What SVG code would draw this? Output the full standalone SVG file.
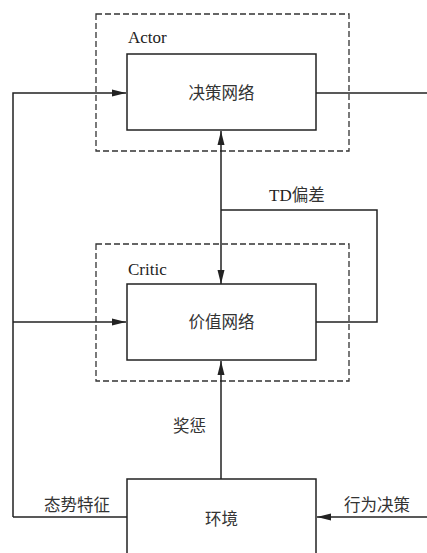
<svg xmlns="http://www.w3.org/2000/svg" width="427" height="553" viewBox="0 0 427 553">
<style>
.bg{fill:#fff}
.box{fill:#fff;stroke:#222;stroke-width:1.5}
.dash{fill:none;stroke:#333;stroke-width:1.3;stroke-dasharray:6,3}
.ln{fill:none;stroke:#222;stroke-width:1.5}
.zh{font-family:"Noto Sans CJK SC",sans-serif;font-size:16.5px;fill:#333}
.en{font-family:"Liberation Serif","Noto Sans CJK SC",serif;font-size:17px;fill:#222}
</style>
<defs>
<marker id="ah" markerWidth="14" markerHeight="8" refX="14" refY="4" orient="auto" markerUnits="userSpaceOnUse">
<path d="M0,0.5 L14,4 L0,7.5 Z" fill="#222"/>
</marker>
</defs>
<rect class="bg" width="427" height="553"/>
<g id="actor-group">
<rect class="dash" x="96" y="14" width="253" height="137"/>
<text class="en" x="128" y="43">Actor</text>
</g>
<g id="critic-group">
<rect class="dash" x="96" y="244" width="253" height="137"/>
<text class="en" x="128" y="275">Critic</text>
</g>
<g id="connectors">
<path class="ln" d="M13,517 L13,93 L126,93" marker-end="url(#ah)"/>
<path class="ln" d="M13,322 L126,322" marker-end="url(#ah)"/>
<path class="ln" d="M316,93 L427,93"/>
<path class="ln" d="M221,210 L221,131" marker-end="url(#ah)"/>
<path class="ln" d="M221,210 L221,284" marker-end="url(#ah)"/>
<path class="ln" d="M221,210 L377,210 L377,322 L316,322"/>
<path class="ln" d="M221,479 L221,361" marker-end="url(#ah)"/>
<path class="ln" d="M127,517 L13,517"/>
<path class="ln" d="M427,517 L317,517" marker-end="url(#ah)"/>
<text class="en" x="269" y="201">TD<tspan class="zh">偏差</tspan></text>
<text class="zh" x="173" y="432">奖惩</text>
<text class="zh" x="44" y="511">态势特征</text>
<text class="zh" x="344" y="511">行为决策</text>
</g>
<g id="policy-net">
<rect class="box" x="127" y="54" width="189" height="76"/>
<text class="zh" x="221.5" y="99" text-anchor="middle">决策网络</text>
</g>
<g id="value-net">
<rect class="box" x="127" y="284" width="189" height="76"/>
<text class="zh" x="221.5" y="328" text-anchor="middle">价值网络</text>
</g>
<g id="environment">
<rect class="box" x="127" y="479" width="189" height="90"/>
<text class="zh" x="221.5" y="525" text-anchor="middle">环境</text>
</g>
</svg>
